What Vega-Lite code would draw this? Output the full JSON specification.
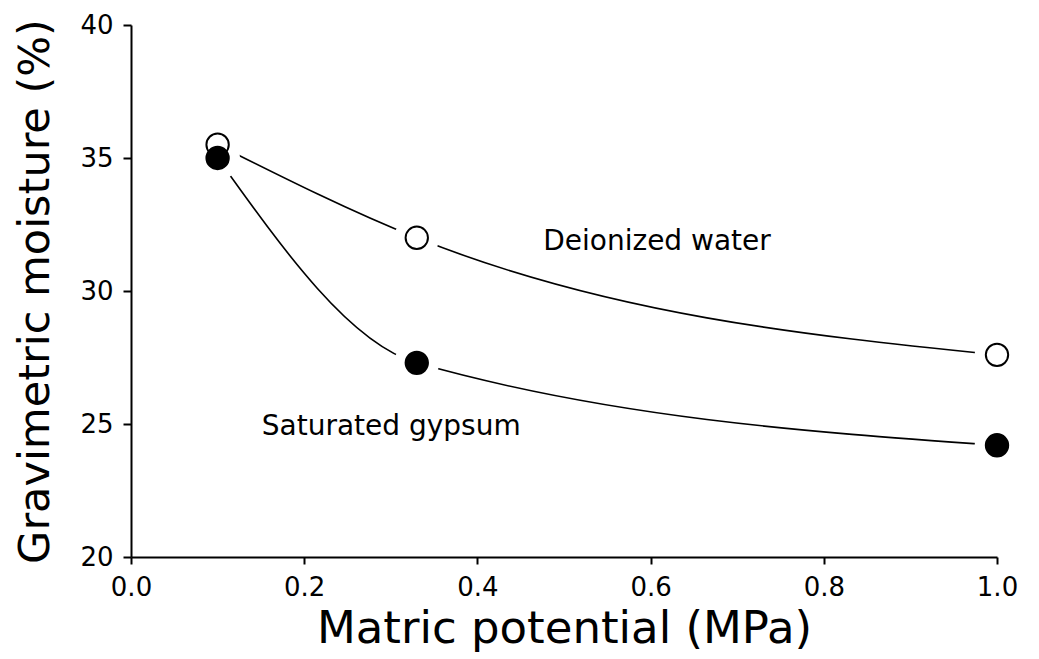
{
  "$schema": "https://vega.github.io/schema/vega-lite/v6.json",
  "width": 866,
  "height": 532,
  "autosize": {"type": "none"},
  "padding": {"left": 131, "top": 25, "right": 42, "bottom": 102},
  "background": "white",
  "config": {
    "view": {"stroke": null},
    "font": "DejaVu Sans",
    "axis": {
      "grid": false,
      "domainColor": "black",
      "domainWidth": 2,
      "tickColor": "black",
      "tickWidth": 2,
      "labelColor": "black",
      "titleColor": "black",
      "labelFont": "DejaVu Sans",
      "titleFont": "DejaVu Sans",
      "labelFontWeight": "normal",
      "titleFontWeight": "normal",
      "labelFlush": false,
      "labelOverlap": false
    }
  },
  "datasets": {
    "pts": [
      {"mp": 0.1, "gm": 35.5, "s": "Deionized water"},
      {"mp": 0.33, "gm": 32.0, "s": "Deionized water"},
      {"mp": 1.0, "gm": 27.6, "s": "Deionized water"},
      {"mp": 0.1, "gm": 35.0, "s": "Saturated gypsum"},
      {"mp": 0.33, "gm": 27.3, "s": "Saturated gypsum"},
      {"mp": 1.0, "gm": 24.2, "s": "Saturated gypsum"}
    ],
    "labels": [
      {"mp": 0.476, "gm": 31.84, "t": "Deionized water"},
      {"mp": 0.151, "gm": 24.89, "t": "Saturated gypsum"}
    ]
  },
  "layer": [
    {
      "data": {"name": "pts"},
      "mark": {"type": "line", "interpolate": "monotone", "color": "black", "strokeWidth": 1.6},
      "encoding": {
        "x": {
          "field": "mp", "type": "quantitative",
          "scale": {"domain": [0, 1], "nice": false},
          "axis": {
            "title": "Matric potential (MPa)",
            "values": [0, 0.2, 0.4, 0.6, 0.8, 1.0],
            "format": ".1f",
            "labelFontSize": 26,
            "titleFontSize": 45,
            "tickSize": 7,
            "labelPadding": 10,
            "titlePadding": 6
          }
        },
        "y": {
          "field": "gm", "type": "quantitative",
          "scale": {"domain": [20, 40], "nice": false, "zero": false},
          "axis": {
            "title": "Gravimetric moisture (%)",
            "values": [20, 25, 30, 35, 40],
            "format": "d",
            "labelFontSize": 26,
            "titleFontSize": 43,
            "tickSize": 8,
            "labelPadding": 10,
            "titlePadding": 22
          }
        },
        "detail": {"field": "s"}
      }
    },
    {
      "data": {"name": "pts"},
      "mark": {"type": "point", "shape": "circle", "filled": true, "color": "white", "opacity": 1, "size": 2000},
      "encoding": {
        "x": {"field": "mp", "type": "quantitative"},
        "y": {"field": "gm", "type": "quantitative"}
      }
    },
    {
      "data": {"name": "pts"},
      "mark": {"type": "point", "shape": "circle", "stroke": "black", "strokeWidth": 2, "opacity": 1, "size": 500},
      "encoding": {
        "x": {"field": "mp", "type": "quantitative"},
        "y": {"field": "gm", "type": "quantitative"},
        "fill": {
          "field": "s", "type": "nominal",
          "scale": {"domain": ["Deionized water", "Saturated gypsum"], "range": ["white", "black"]},
          "legend": null
        }
      }
    },
    {
      "data": {"name": "labels"},
      "mark": {"type": "text", "align": "left", "baseline": "middle", "fontSize": 28, "color": "black", "font": "DejaVu Sans"},
      "encoding": {
        "x": {"field": "mp", "type": "quantitative"},
        "y": {"field": "gm", "type": "quantitative"},
        "text": {"field": "t"}
      }
    }
  ]
}
